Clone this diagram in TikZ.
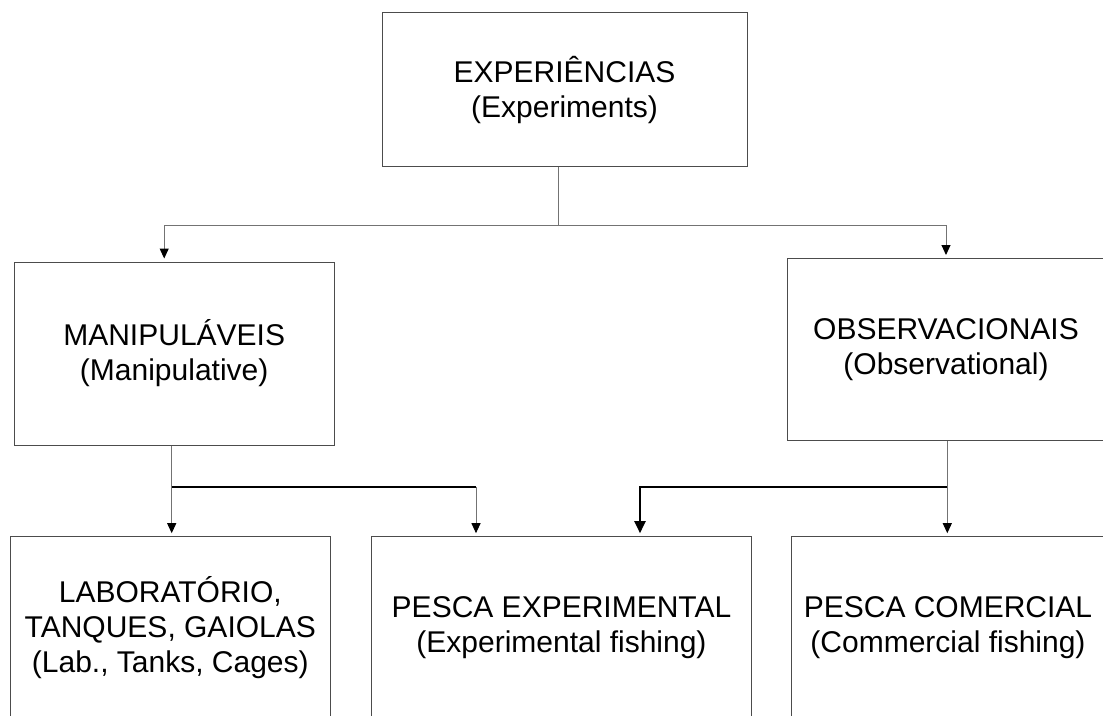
\documentclass[tikz,border=0pt]{standalone}
\usepackage{fontspec}
\setmainfont{Liberation Sans}
\usetikzlibrary{arrows.meta}

\begin{document}
\begin{tikzpicture}[x=1pt,y=-1pt,
  box/.style={draw=black!70,line width=1pt,align=center,inner sep=0pt,
    font=\fontsize{30}{35}\selectfont},
  link/.style={draw=black!55,line width=1pt},
  arr/.style={link,-{Triangle[length=10pt,width=9pt,color=black]},shorten >=3pt},
  bar/.style={draw=black,line width=2pt},
  bigarr/.style={bar,-{Triangle[length=12pt,width=11pt]},shorten >=3pt}]
  \useasboundingbox (0,0) rectangle (1103,715);
  \node (exp)   at (564.5,89.7)  [box,minimum width=365pt,minimum height=154pt] {EXPERIÊNCIAS\\(Experiments)};
  \node (manip) at (174.2,353.5) [box,minimum width=320pt,minimum height=183pt] {MANIPULÁVEIS\\(Manipulative)};
  \node (obs)   at (946,349.5)   [box,minimum width=318pt,minimum height=182pt] {OBSERVACIONAIS\\(Observational)};
  \node (lab)   at (170.3,627.7) [box,minimum width=320pt,minimum height=182pt] {LABORATÓRIO,\\TANQUES, GAIOLAS\\(Lab., Tanks, Cages)};
  \node (pexp)  at (561.5,627.7) [box,minimum width=380pt,minimum height=182pt] {PESCA EXPERIMENTAL\\(Experimental fishing)};
  \node (pcom)  at (948,627.7)   [box,minimum width=314pt,minimum height=182pt] {PESCA COMERCIAL\\(Commercial fishing)};
  % top level
  \coordinate (top fork) at (558.7,225);
  \draw[link] (exp.south -| top fork) -- (top fork);
  \draw[arr] (top fork) -| ([xshift=-10pt]manip.north);
  \draw[arr] (top fork) -| (obs.north);
  % manipulative branch
  \coordinate (left fork) at (171.7,487.3);
  \coordinate (left in) at (476,487.3);
  \draw[arr] (manip.south -| left fork) -- (left fork |- lab.north);
  \draw[bar] (left fork) -- (left in);
  \draw[arr] (left in) -- (left in |- pexp.north);
  % observational branch
  \coordinate (right fork) at (947.3,487.3);
  \coordinate (right in) at (640,487.3);
  \draw[arr] (obs.south -| right fork) -- (right fork |- pcom.north);
  \draw[bigarr] (right fork) -- (right in) -- (right in |- pexp.north);
\end{tikzpicture}
\end{document}
